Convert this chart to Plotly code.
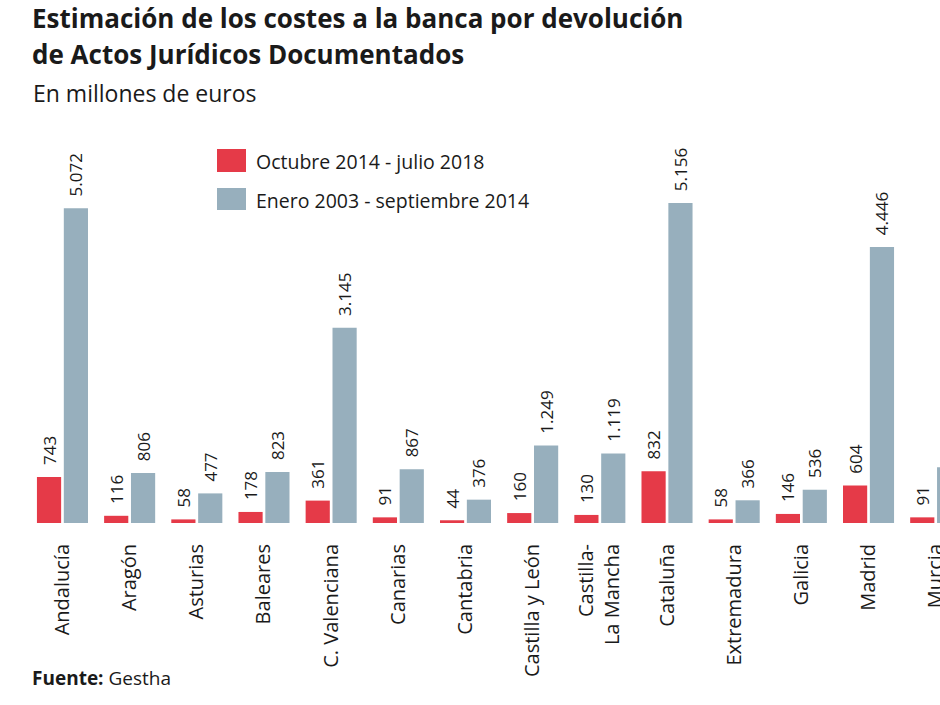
import plotly.graph_objects as go

# ---- data ----
regions = ["Andalucía", "Aragón", "Asturias", "Baleares", "C. Valenciana", "Canarias",
           "Cantabria", "Castilla y León", "Castilla-<br>La Mancha", "Cataluña",
           "Extremadura", "Galicia", "Madrid", "Murcia"]
oct2014_jul2018 = [743, 116, 58, 178, 361, 91, 44, 160, 130, 832, 58, 146, 604, 91]
ene2003_sep2014 = [5072, 806, 477, 823, 3145, 867, 376, 1249, 1119, 5156, 366, 536, 4446, 900]
series_names = ["Octubre 2014 - julio 2018", "Enero 2003 - septiembre 2014"]

RED = "#E53A48"
BLUE = "#97AFBD"
TXT = "#1a1a1a"
FONT = "Open Sans"

W, H = 940, 705
BASE_PX = 523  # bottom of plot area in pixels


def px(x):
    return x / W


def py(y):
    return (BASE_PX - y) / BASE_PX


fig = go.Figure()
for name, vals, col in [(series_names[0], oct2014_jul2018, RED),
                        (series_names[1], ene2003_sep2014, BLUE)]:
    fig.add_trace(go.Bar(
        x=regions, y=vals, name=name, marker=dict(color=col, line=dict(width=0)),
        texttemplate="\u00a0\u00a0%{y:,}", textposition="outside", textangle=-90,
        textfont=dict(family=FONT, size=17, color=TXT),
        cliponaxis=False, constraintext="none", showlegend=False,
    ))

fig.update_layout(
    width=W, height=H,
    margin=dict(l=0, r=0, t=0, b=H - BASE_PX, autoexpand=False),
    paper_bgcolor="white", plot_bgcolor="white",
    separators=",.",
    barmode="group", bargap=0.2, bargroupgap=0.1,
    font=dict(family=FONT, color=TXT),
    xaxis=dict(type="category", range=[-0.930, 13.064], tickangle=-90,
               tickfont=dict(family=FONT, size=20, color=TXT),
               ticks="outside", ticklen=12, tickcolor="rgba(0,0,0,0)",
               showgrid=False, showline=False, zeroline=False, automargin=False),
    yaxis=dict(visible=False, range=[0, 8427], automargin=False),
)

# legend (manual swatches)
fig.add_shape(type="rect", xref="paper", yref="paper", x0=px(217), x1=px(246),
              y0=py(172), y1=py(149), fillcolor=RED, line=dict(width=0))
fig.add_shape(type="rect", xref="paper", yref="paper", x0=px(217), x1=px(246),
              y0=py(210), y1=py(188), fillcolor=BLUE, line=dict(width=0))
for name, yc in [(series_names[0], 161), (series_names[1], 200)]:
    fig.add_annotation(text=name, xref="paper", yref="paper", x=px(254), y=py(yc),
                       xanchor="left", yanchor="middle", showarrow=False,
                       font=dict(family=FONT, size=19.5, color=TXT))

# titles
fig.add_annotation(text="<b>Estimación de los costes a la banca por devolución</b>",
                   xref="paper", yref="paper", x=px(30), y=py(18), xanchor="left",
                   yanchor="middle", showarrow=False, font=dict(family=FONT, size=26, color=TXT))
fig.add_annotation(text="<b>de Actos Jurídicos Documentados</b>",
                   xref="paper", yref="paper", x=px(30), y=py(54), xanchor="left",
                   yanchor="middle", showarrow=False, font=dict(family=FONT, size=26, color=TXT))
fig.add_annotation(text="En millones de euros",
                   xref="paper", yref="paper", x=px(31), y=py(93), xanchor="left",
                   yanchor="middle", showarrow=False, font=dict(family=FONT, size=23, color=TXT))
fig.add_annotation(text="<b>Fuente:</b> Gestha",
                   xref="paper", yref="paper", x=px(30), y=py(678), xanchor="left",
                   yanchor="middle", showarrow=False, font=dict(family=FONT, size=19, color=TXT))

fig.write_html("out.html")
